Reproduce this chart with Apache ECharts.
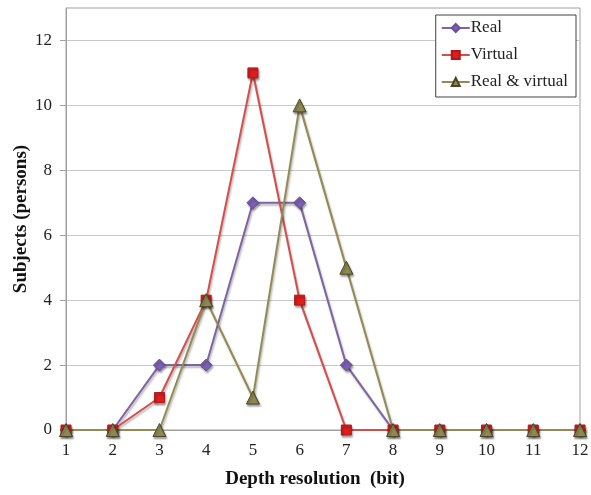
<!DOCTYPE html>
<html>
<head>
<meta charset="utf-8">
<script src="https://cdn.jsdelivr.net/npm/echarts@6/dist/echarts.min.js"></script>
<style>
  html, body { margin: 0; padding: 0; background: #fff; }
  #chart { width: 591px; height: 495px; }
</style>
</head>
<body>
<div id="chart"></div>
<script>
// Depth resolution (bits) on the x axis
const bits = [1, 2, 3, 4, 5, 6, 7, 8, 9, 10, 11, 12];
// Number of subjects per condition
const realValues = [0, 0, 2, 2, 7, 7, 2, 0, 0, 0, 0, 0];
const virtualValues = [0, 0, 1, 4, 11, 4, 0, 0, 0, 0, 0, 0];
const realVirtualValues = [0, 0, 0, 4, 1, 10, 5, 0, 0, 0, 0, 0];
const seriesNames = ['Real', 'Virtual', 'Real & virtual'];
// Labelled ticks on the y axis
const yTicks = [0, 2, 4, 6, 8, 10, 12];

const font = '"Liberation Serif", "Times New Roman", serif';

function pairs(values) {
  return bits.map((b, i) => [b, values[i]]);
}

function lineSeries(name, values, lineColor, markColor, borderColor, symbol, size) {
  return {
    name: name,
    type: 'line',
    data: pairs(values),
    symbol: symbol,
    symbolSize: size,
    lineStyle: {
      color: lineColor, width: 2,
      shadowColor: 'rgba(0,0,0,0.3)', shadowBlur: 2, shadowOffsetX: 1, shadowOffsetY: 2
    },
    itemStyle: {
      color: markColor, borderColor: borderColor, borderWidth: 1,
      shadowColor: 'rgba(0,0,0,0.35)', shadowBlur: 2, shadowOffsetX: 1, shadowOffsetY: 2
    },
    emphasis: { disabled: true },
    animation: false
  };
}

const chart = echarts.init(document.getElementById('chart'));
chart.setOption({
  backgroundColor: '#fff',
  animation: false,
  grid: {
    left: 66, right: 11, top: 8, bottom: 65,
    containLabel: false,
    outerBoundsMode: 'none',
    show: true, borderColor: '#a0a0a0', borderWidth: 1
  },
  legend: {
    data: seriesNames,
    orient: 'vertical',
    right: 15, top: 15,
    padding: [4, 8, 6, 5],
    itemGap: 9,
    itemWidth: 28, itemHeight: 10,
    backgroundColor: '#fff',
    borderColor: '#404040', borderWidth: 1,
    textStyle: { fontFamily: font, fontSize: 17, lineHeight: 18, color: '#222', padding: [0, 0, 0, -4] }
  },
  xAxis: {
    type: 'value',
    min: 1, max: 12, interval: 1,
    name: 'Depth resolution  (bit)',
    nameLocation: 'middle',
    nameGap: 40,
    nameMoveOverlap: false,
    nameTextStyle: { fontFamily: font, fontSize: 19, fontWeight: 'bold', color: '#111', padding: [0, 16, 0, 0] },
    axisLine: { show: true, lineStyle: { color: '#a0a0a0' } },
    axisTick: { show: false },
    splitLine: { show: false },
    axisLabel: { fontFamily: font, fontSize: 17, color: '#222', margin: 12 }
  },
  yAxis: {
    type: 'value',
    min: 0, max: 13, interval: 2,
    name: 'Subjects (persons)',
    nameLocation: 'middle',
    nameGap: 35,
    nameMoveOverlap: false,
    nameTextStyle: { fontFamily: font, fontSize: 19, fontWeight: 'bold', color: '#111' },
    axisLine: { show: true, lineStyle: { color: '#a0a0a0' } },
    axisTick: { show: true, length: 6, customValues: yTicks, lineStyle: { color: '#a0a0a0' } },
    splitLine: { show: true, lineStyle: { color: '#c8c8c8' } },
    axisLabel: {
      fontFamily: font, fontSize: 17, color: '#222', margin: 14,
      customValues: yTicks
    }
  },
  series: [
    lineSeries(seriesNames[0], realValues, '#8064a2', '#7b5fb0', '#6a4f9a', 'diamond', 12),
    lineSeries(seriesNames[1], virtualValues, '#d0504d', '#dc1e1e', '#b01818', 'rect', 10),
    lineSeries(seriesNames[2], realVirtualValues, '#948a54', '#8e8a52', '#4a4528', 'triangle', 13)
  ]
});
</script>
</body>
</html>
